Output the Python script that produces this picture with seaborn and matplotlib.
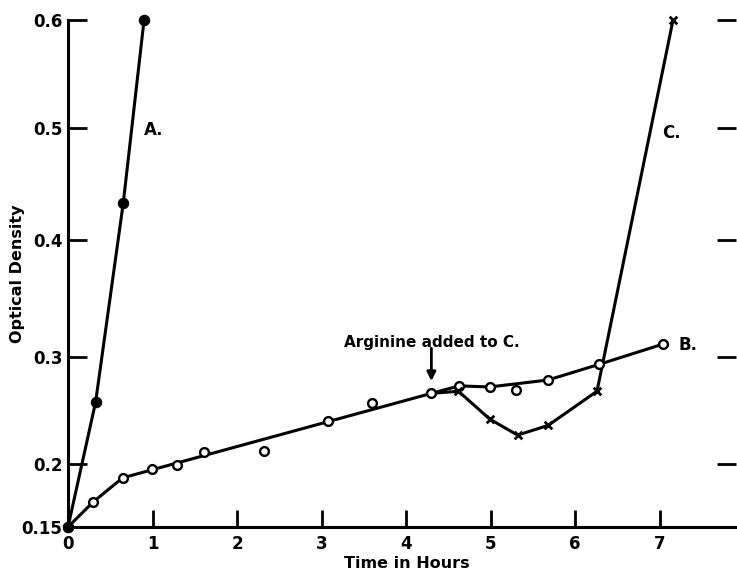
import numpy as np
import pandas as pd
import matplotlib
matplotlib.use("Agg")
import matplotlib.pyplot as plt
import seaborn as sns

# ---------------- data ----------------
time_A = [0.0, 0.327, 0.654, 0.90]
od_A = [0.150, 0.258, 0.433, 0.600]

time_B = [0.0, 0.30, 0.646, 0.99, 1.29, 1.615, 2.32, 3.08, 3.60, 4.30,
          4.63, 4.99, 5.30, 5.68, 6.28, 7.04]
od_B = [0.150, 0.170, 0.189, 0.196, 0.199, 0.2115, 0.212, 0.2405, 0.2567,
        0.266, 0.273, 0.272, 0.269, 0.2785, 0.293, 0.311]

# hand-drawn fitted line through series B
time_B_fit = [0.0, 0.30, 0.646, 4.30, 4.63, 4.99, 5.68, 6.28, 7.04]
od_B_fit = [0.150, 0.170, 0.189, 0.266, 0.273, 0.272, 0.2785, 0.293, 0.311]

# series C: starts from the B point where arginine was added
time_C = [4.30, 4.62, 4.99, 5.32, 5.68, 6.26, 7.16]
od_C = [0.266, 0.268, 0.242, 0.227, 0.236, 0.268, 0.600]

x_ticks = [0, 1, 2, 3, 4, 5, 6, 7]
x_tick_labels = ["0", "1", "2", "3", "4", "5", "6", "7"]
y_ticks = [0.15, 0.2, 0.3, 0.4, 0.5, 0.6]
y_tick_labels = ["0.15", "0.2", "0.3", "0.4", "0.5", "0.6"]

# ---------------- hand-drawn (non-uniform) y scale ----------------
_knots = np.array([0.15, 0.2, 0.3, 0.4, 0.5, 0.6])
_place = np.array([0.0, 63.0, 170.0, 287.0, 399.0, 507.0])


def _pw(x, xp, fp):
    x = np.asarray(x, dtype=float)
    y = np.interp(x, xp, fp)
    lo_slope = (fp[1] - fp[0]) / (xp[1] - xp[0])
    hi_slope = (fp[-1] - fp[-2]) / (xp[-1] - xp[-2])
    y = np.where(x < xp[0], fp[0] + (x - xp[0]) * lo_slope, y)
    y = np.where(x > xp[-1], fp[-1] + (x - xp[-1]) * hi_slope, y)
    return y


def fwd(v):
    return _pw(v, _knots, _place)


def inv(p):
    return _pw(p, _place, _knots)


# ---------------- figure ----------------
sns.set_style("ticks")
plt.rcParams["font.family"] = ["DejaVu Sans"]
plt.rcParams["font.weight"] = "bold"
plt.rcParams["text.color"] = "black"
plt.rcParams["axes.labelcolor"] = "black"
plt.rcParams["xtick.color"] = "black"
plt.rcParams["ytick.color"] = "black"

fig = plt.figure(figsize=(7.37, 5.71), dpi=100)
ax = fig.add_axes([68 / 737, 44 / 571, 668 / 737, 507 / 571])
ax.set_yscale("function", functions=(fwd, inv))

dfA = pd.DataFrame({"time": time_A, "od": od_A})
dfB = pd.DataFrame({"time": time_B, "od": od_B})
dfBf = pd.DataFrame({"time": time_B_fit, "od": od_B_fit})
dfC = pd.DataFrame({"time": time_C, "od": od_C})

lw = 2.2
sns.lineplot(data=dfBf, x="time", y="od", ax=ax, color="black", lw=lw,
             sort=False, estimator=None, zorder=2, clip_on=False)
sns.lineplot(data=dfC, x="time", y="od", ax=ax, color="black", lw=lw,
             sort=False, estimator=None, zorder=2, clip_on=False)
sns.scatterplot(data=dfC.iloc[1:], x="time", y="od", ax=ax, marker="x",
                s=30, color="black", linewidth=2.0, zorder=4, clip_on=False)
sns.scatterplot(data=dfB, x="time", y="od", ax=ax, marker="o", s=40,
                facecolor="white", edgecolor="black", linewidth=1.7,
                zorder=3, clip_on=False)
sns.lineplot(data=dfA, x="time", y="od", ax=ax, color="black", lw=lw,
             sort=False, estimator=None, marker="o", markersize=7.5,
             markerfacecolor="black", markeredgecolor="black",
             zorder=5, clip_on=False)

ax.set_xlim(0, 7.905)
ax.set_ylim(0.15, 0.6)
ax.set_xticks(x_ticks)
ax.set_xticklabels(x_tick_labels)
ax.set_yticks(y_ticks)
ax.set_yticklabels(y_tick_labels)
ax.minorticks_off()

for side in ("top", "right"):
    ax.spines[side].set_visible(False)
for side in ("left", "bottom"):
    ax.spines[side].set_linewidth(2.2)
    ax.spines[side].set_color("black")

ax.tick_params(axis="x", direction="in", length=12, width=2.0, pad=6,
               labelsize=12, colors="black")
ax.tick_params(axis="y", direction="in", length=14, width=2.0, pad=4,
               labelsize=12, colors="black", right=True, labelright=False)
for lab in ax.get_xticklabels() + ax.get_yticklabels():
    lab.set_fontweight("bold")

ax.set_xlabel("Time in Hours", fontsize=11.5, fontweight="bold",
              color="black")
ax.set_ylabel("Optical Density", fontsize=11.5, fontweight="bold",
              color="black")
ax.xaxis.set_label_coords(0.507, -0.057)
ax.yaxis.set_label_coords(-0.064, 0.50)

ax.text(0.90, 0.498, "A.", fontsize=12, fontweight="bold", color="black",
        ha="left", va="center")
ax.text(7.03, 0.4955, "C.", fontsize=12, fontweight="bold", color="black",
        ha="left", va="center")
ax.text(7.23, 0.310, "B.", fontsize=12, fontweight="bold", color="black",
        ha="left", va="center")
ax.text(4.31, 0.3128, "Arginine added to C.", fontsize=11, color="black",
        fontweight="bold", ha="center", va="center")
ax.annotate("", xy=(4.30, 0.2775), xytext=(4.30, 0.3075),
            arrowprops=dict(arrowstyle="-|>", lw=2.0, color="black",
                            mutation_scale=13, shrinkA=0, shrinkB=0))

fig.savefig("out.png", dpi=100)
